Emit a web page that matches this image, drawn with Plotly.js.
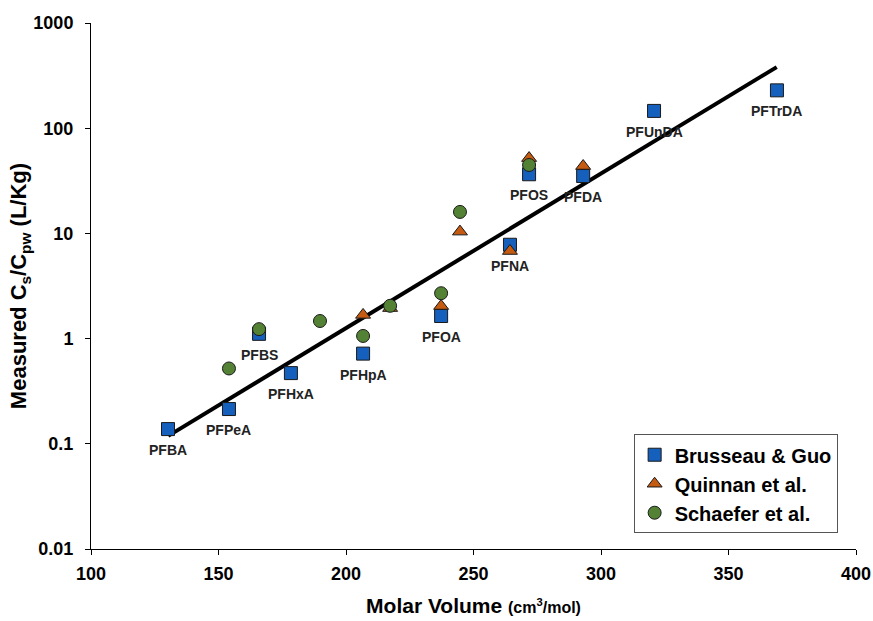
<!DOCTYPE html>
<html><head><meta charset="utf-8">
<script src="https://cdn.plot.ly/plotly-3.0.1.min.js"></script>
<style>body{margin:0;background:#fff}#chart{width:873px;height:621px}</style>
</head><body><div id="chart"></div>
<script>
// Brusseau & Guo
const bgCompounds = ["PFBA","PFPeA","PFBS","PFHxA","PFHpA","PFOA","PFNA","PFOS","PFDA","PFUnDA","PFTrDA"];
const bgVolume = [130.2,154.1,165.9,178.4,206.7,237.3,264.3,271.8,293.0,320.8,369.0];
const bgRatio = [0.138,0.214,1.11,0.47,0.72,1.64,7.8,36.5,35.1,146,229];
// Quinnan et al.
const qVolume = [206.7,217.3,237.3,244.7,264.3,271.8,293.0];
const qRatio = [1.68,1.95,2.04,10.4,6.8,52,43.7];
// Schaefer et al.
const sVolume = [154.1,165.9,189.8,206.7,217.3,237.3,244.7,271.8];
const sRatio = [0.52,1.23,1.47,1.06,2.05,2.7,16.0,44.7];
// Trend line
const fitVolume = [130.3,368.9];
const fitRatio = [0.119,381];

const mk = (sym, color, size) => ({symbol: sym, color: color, size: size, line: {color: '#1a1a1a', width: 1}});
const traces = [
  {x: fitVolume, y: fitRatio, mode: 'lines', line: {color: '#000', width: 4}, showlegend: false, hoverinfo: 'skip'},
  {x: bgVolume, y: bgRatio, mode: 'markers', name: 'Brusseau & Guo', marker: mk('square', '#1560BD', 13)},
  {x: qVolume, y: qRatio, mode: 'markers', name: 'Quinnan et al.', marker: mk('triangle-up', '#C55A11', 13)},
  {x: sVolume, y: sRatio, mode: 'markers', name: 'Schaefer et al.', marker: mk('circle', '#548235', 13)}
];
const annotations = bgCompounds.map((c, i) => ({
  x: bgVolume[i], y: Math.log10(bgRatio[i]), xref: 'x', yref: 'y', text: '<b>' + c + '</b>',
  showarrow: false, yshift: -21, font: {family: 'Liberation Sans, Arial', size: 14, color: '#222'}
}));
const layout = {
  width: 873, height: 621,
  margin: {l: 91, r: 17, t: 23, b: 72},
  paper_bgcolor: '#fff', plot_bgcolor: '#fff',
  font: {family: 'Liberation Sans, Arial', color: '#000'},
  annotations: annotations,
  xaxis: {range: [100, 400], dtick: 50, showgrid: false, zeroline: false, showline: true, linecolor: '#000', linewidth: 1,
          ticks: 'outside', ticklen: 5, tickcolor: '#000', ticklabelstandoff: 3,
          tickfont: {size: 18, family: 'Liberation Sans, Arial', weight: 'bold'},
          title: {text: '<b>Molar Volume </b><b><span style="font-size:16px">(cm<sup>3</sup>/mol)</span></b>', font: {size: 21}, standoff: 15}},
  yaxis: {type: 'log', range: [-2, 3], dtick: 1, showgrid: false, zeroline: false, showline: true, linecolor: '#000', linewidth: 1,
          ticks: 'outside', ticklen: 5, tickcolor: '#000', ticklabelstandoff: 8,
          tickfont: {size: 18, family: 'Liberation Sans, Arial', weight: 'bold'},
          tickvals: [0.01,0.1,1,10,100,1000], ticktext: ['0.01','0.1','1','10','100','1000'],
          title: {text: '<b>Measured C<sub>s</sub>/C<sub>pw</sub> (L/Kg)</b>', font: {size: 22}, standoff: 0}},
  legend: {x: 0.976, y: 0.03, xanchor: 'right', yanchor: 'bottom', bordercolor: '#555', borderwidth: 1, bgcolor: '#fff',
           font: {size: 20, family: 'Liberation Sans, Arial', weight: 'bold'}, itemwidth: 30, tracegroupgap: 4},
  showlegend: true
};
Plotly.newPlot('chart', traces, layout, {displayModeBar: false, staticPlot: true});
</script></body></html>
